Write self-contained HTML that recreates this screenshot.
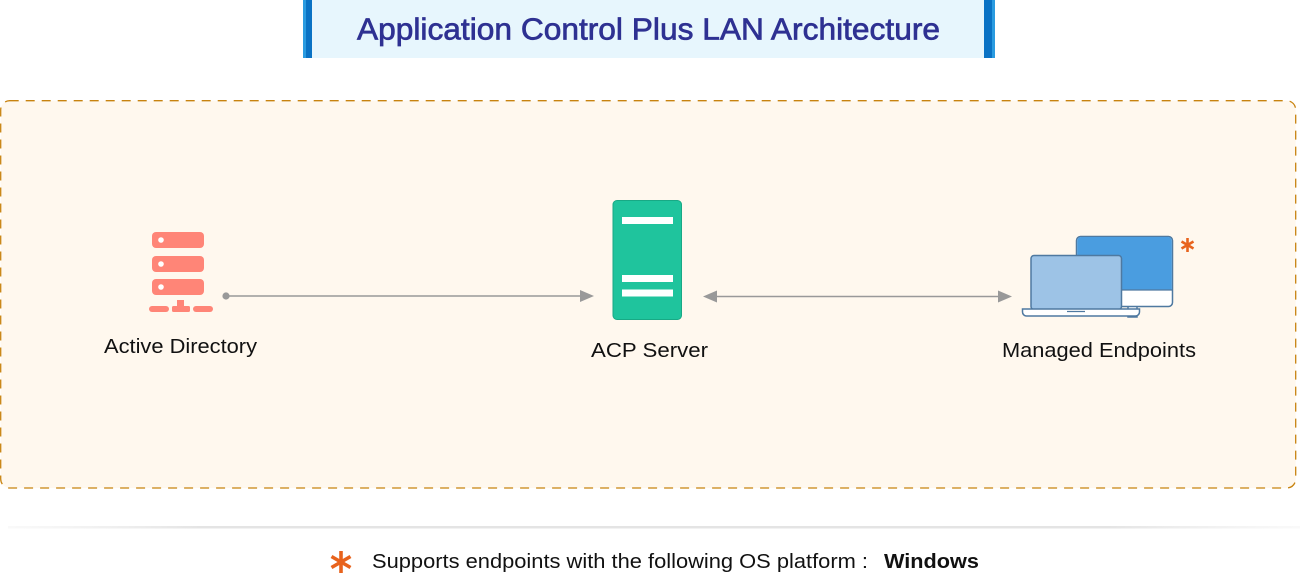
<!DOCTYPE html>
<html>
<head>
<meta charset="utf-8">
<style>
  html,body{margin:0;padding:0;background:#ffffff;}
  body{width:1303px;height:578px;overflow:hidden;}
  svg{display:block;}
  text{font-family:"Liberation Sans",Arial,sans-serif;}
</style>
</head>
<body>
<svg width="1303" height="578" viewBox="0 0 1303 578" xmlns="http://www.w3.org/2000/svg">
  <defs>
    <linearGradient id="sep" x1="0" x2="1" y1="0" y2="0">
      <stop offset="0" stop-color="#ececec" stop-opacity="0.3"/>
      <stop offset="0.15" stop-color="#e4e4e4"/>
      <stop offset="0.85" stop-color="#e4e4e4"/>
      <stop offset="1" stop-color="#ececec" stop-opacity="0.3"/>
    </linearGradient>
  </defs>

  <!-- Title -->
  <rect x="303" y="0" width="692" height="58" fill="#e7f6fd"/>
  <rect x="303" y="0" width="3" height="58" fill="#2a9be0"/>
  <rect x="306" y="0" width="6" height="58" fill="#0a72c4"/>
  <rect x="984" y="0" width="8" height="58" fill="#0a72c4"/>
  <rect x="992" y="0" width="3" height="58" fill="#2a9be0"/>
  <text x="357" y="39.5" font-size="31" fill="#2e3192" stroke="#2e3192" stroke-width="0.7" textLength="583" lengthAdjust="spacingAndGlyphs">Application Control Plus LAN Architecture</text>

  <!-- Dashed container -->
  <rect x="0.7" y="100.7" width="1295" height="387.3" rx="9" ry="9" fill="#fff8ee" stroke="#c8830f" stroke-width="1.3" stroke-dasharray="9 7"/>

  <!-- Active Directory icon -->
  <g fill="#ff8577">
    <rect x="152" y="232" width="52" height="16" rx="4"/>
    <rect x="152" y="256" width="52" height="16" rx="4"/>
    <rect x="152" y="279" width="52" height="16" rx="4"/>
    <rect x="177" y="300" width="7" height="7"/>
    <rect x="149" y="306" width="20" height="6" rx="3"/>
    <rect x="172" y="306" width="18" height="6" rx="1.5"/>
    <rect x="193" y="306" width="20" height="6" rx="3"/>
  </g>
  <g fill="#ffffff">
    <circle cx="161" cy="240" r="2.8"/>
    <circle cx="161" cy="264" r="2.8"/>
    <circle cx="161" cy="287" r="2.8"/>
  </g>
  <text x="104" y="353" font-size="20" fill="#111" textLength="153" lengthAdjust="spacingAndGlyphs">Active Directory</text>

  <!-- Connector AD -> ACP -->
  <circle cx="226" cy="296" r="3.6" fill="#999999"/>
  <line x1="226" y1="296" x2="582" y2="296" stroke="#999999" stroke-width="1.5"/>
  <polygon points="594,296 580,290 580,302" fill="#999999"/>

  <!-- ACP Server icon -->
  <rect x="613" y="200.5" width="68.5" height="119" rx="4" fill="#1fc49d" stroke="#18a985" stroke-width="1"/>
  <rect x="622" y="217" width="51" height="7" fill="#ffffff"/>
  <rect x="622" y="275" width="51" height="7" fill="#ffffff"/>
  <rect x="622" y="289.5" width="51" height="7" fill="#ffffff"/>
  <text x="591" y="357" font-size="20" fill="#111" textLength="117" lengthAdjust="spacingAndGlyphs">ACP Server</text>

  <!-- Connector ACP <-> Endpoints -->
  <line x1="714" y1="296.5" x2="1000" y2="296.5" stroke="#999999" stroke-width="1.5"/>
  <polygon points="703,296.5 717,290.5 717,302.5" fill="#999999"/>
  <polygon points="1012,296.5 998,290.5 998,302.5" fill="#999999"/>

  <!-- Managed Endpoints icon -->
  <!-- monitor -->
  <rect x="1128" y="305" width="9" height="12" fill="#ffffff" stroke="#4f79a0" stroke-width="1.5"/>
  <rect x="1076.5" y="236.5" width="96" height="70" rx="4" fill="#ffffff" stroke="#4f79a0" stroke-width="1.5"/>
  <path d="M1077.2 290 V241 a4 4 0 0 1 4 -4 H1167.8 a4 4 0 0 1 4 4 V290 Z" fill="#4a9de0"/>
  <line x1="1077" y1="290" x2="1172" y2="290" stroke="#4f79a0" stroke-width="1.2"/>
  <!-- laptop -->
  <rect x="1031" y="255.5" width="90.5" height="54" rx="3" fill="#9dc3e6" stroke="#4f79a0" stroke-width="1.5"/>
  <path d="M1022.5 309 H1139.5 V312 a4 4 0 0 1 -4 4 H1026.5 a4 4 0 0 1 -4 -4 Z" fill="#ffffff" stroke="#4f79a0" stroke-width="1.5"/>
  <line x1="1067" y1="311.5" x2="1085" y2="311.5" stroke="#4f79a0" stroke-width="1.3"/>
  <!-- asterisk -->
  <g stroke="#e8631d" stroke-width="2.6">
    <line x1="1187.5" y1="238" x2="1187.5" y2="252"/>
    <line x1="1181.5" y1="241.5" x2="1193.5" y2="248.5"/>
    <line x1="1181.5" y1="248.5" x2="1193.5" y2="241.5"/>
  </g>
  <text x="1002" y="357" font-size="20" fill="#111" textLength="194" lengthAdjust="spacingAndGlyphs">Managed Endpoints</text>

  <!-- Separator -->
  <rect x="8" y="526" width="1292" height="2.5" fill="url(#sep)"/>

  <!-- Footer -->
  <g stroke="#e8631d" stroke-width="3.6" stroke-linecap="butt">
    <line x1="341" y1="551" x2="341" y2="573"/>
    <line x1="331.5" y1="556.5" x2="350.5" y2="567.5"/>
    <line x1="331.5" y1="567.5" x2="350.5" y2="556.5"/>
  </g>
  <text x="372" y="568" font-size="20" fill="#111" textLength="496" lengthAdjust="spacingAndGlyphs">Supports endpoints with the following OS platform :</text>
  <text x="884" y="568" font-size="20" font-weight="bold" fill="#111" textLength="95" lengthAdjust="spacingAndGlyphs">Windows</text>
</svg>
</body>
</html>
